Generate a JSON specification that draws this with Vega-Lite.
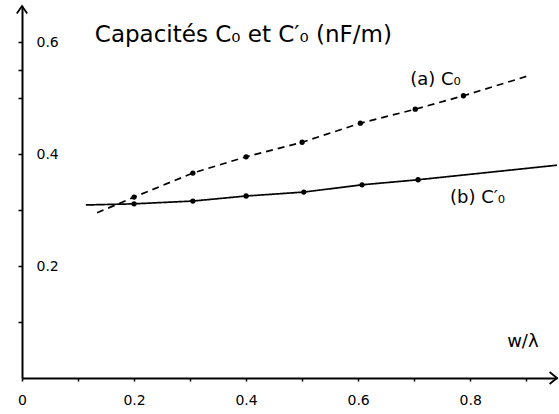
{
  "$schema": "https://vega.github.io/schema/vega-lite/v6.json",
  "autosize": "none",
  "width": 535,
  "height": 372,
  "padding": {"left": 22, "top": 6, "right": 2, "bottom": 36},
  "background": "white",
  "config": {"view": {"stroke": null}, "font": "DejaVu Sans"},
  "datasets": {
    "curves": [
      {"series": "a", "w": 0.134, "c": 0.295, "pt": false},
      {"series": "a", "w": 0.2, "c": 0.323, "pt": true},
      {"series": "a", "w": 0.305, "c": 0.366, "pt": true},
      {"series": "a", "w": 0.4, "c": 0.395, "pt": true},
      {"series": "a", "w": 0.5, "c": 0.421, "pt": true},
      {"series": "a", "w": 0.604, "c": 0.455, "pt": true},
      {"series": "a", "w": 0.702, "c": 0.48, "pt": true},
      {"series": "a", "w": 0.788, "c": 0.504, "pt": true},
      {"series": "a", "w": 0.905, "c": 0.54, "pt": false},
      {"series": "b", "w": 0.114, "c": 0.309, "pt": false},
      {"series": "b", "w": 0.2, "c": 0.311, "pt": true},
      {"series": "b", "w": 0.305, "c": 0.316, "pt": true},
      {"series": "b", "w": 0.4, "c": 0.325, "pt": true},
      {"series": "b", "w": 0.503, "c": 0.332, "pt": true},
      {"series": "b", "w": 0.607, "c": 0.345, "pt": true},
      {"series": "b", "w": 0.707, "c": 0.354, "pt": true},
      {"series": "b", "w": 0.955, "c": 0.38, "pt": false}
    ],
    "labels": [
      {"t": "Capacités C₀ et C′₀ (nF/m)", "w": 0.13, "c": 0.612, "size": 23},
      {"t": "(a) C₀", "w": 0.693, "c": 0.532, "size": 18},
      {"t": "(b) C′₀", "w": 0.764, "c": 0.321, "size": 18},
      {"t": "w/λ", "w": 0.866, "c": 0.064, "size": 18}
    ],
    "arrows": [
      {"s": "x", "w": 0.955, "c": 0},
      {"s": "y", "w": 0, "c": 0.6643}
    ]
  },
  "encoding": {
    "x": {
      "field": "w", "type": "quantitative",
      "scale": {"domain": [0, 0.955], "nice": false, "zero": false},
      "axis": {
        "title": null, "grid": false, "orient": "bottom",
        "values": [0, 0.1, 0.2, 0.3, 0.4, 0.5, 0.6, 0.7, 0.8, 0.9],
        "labelExpr": "datum.value == 0 ? '0' : (datum.value == 0.2 || datum.value == 0.4 || datum.value == 0.6 || datum.value == 0.8 ? format(datum.value, '.1f') : '')",
        "domainColor": "black", "domainWidth": 2,
        "tickColor": "black", "tickSize": 3, "tickWidth": 1.5,
        "labelColor": "black", "labelFontSize": 14, "labelPadding": 12,
        "labelFlush": false, "labelOverlap": false
      }
    },
    "y": {
      "field": "c", "type": "quantitative",
      "scale": {"domain": [0, 0.6643], "nice": false, "zero": false},
      "axis": {
        "title": null, "grid": false, "orient": "left",
        "values": [0.1, 0.2, 0.3, 0.4, 0.5, 0.55, 0.6],
        "labelExpr": "datum.value == 0.2 || datum.value == 0.4 || datum.value == 0.6 ? format(datum.value, '.1f') : ''",
        "domainColor": "black", "domainWidth": 2,
        "tickColor": "black", "tickSize": 4, "tickWidth": 1.5,
        "labelColor": "black", "labelFontSize": 14,
        "labelAlign": "left", "labelBaseline": "middle", "labelPadding": -18,
        "labelFlush": false, "labelOverlap": false
      }
    }
  },
  "layer": [
    {
      "data": {"name": "curves"},
      "mark": {"type": "line", "color": "black", "strokeWidth": 1.7, "clip": true},
      "encoding": {
        "strokeDash": {
          "field": "series", "type": "nominal",
          "scale": {"domain": ["a", "b"], "range": [[7, 5], [1, 0]]},
          "legend": null
        }
      }
    },
    {
      "data": {"name": "curves"},
      "transform": [{"filter": "datum.pt"}],
      "mark": {"type": "point", "filled": true, "color": "black", "size": 28, "opacity": 1}
    },
    {
      "data": {"name": "labels"},
      "mark": {"type": "text", "align": "left", "baseline": "middle", "color": "black"},
      "encoding": {
        "text": {"field": "t"},
        "size": {"field": "size", "type": "quantitative", "scale": null}
      }
    },
    {
      "data": {"name": "arrows"},
      "transform": [{"filter": "datum.s == 'x'"}],
      "mark": {"type": "point", "filled": false, "color": "black", "strokeWidth": 1.8, "size": 220, "opacity": 1, "shape": "M-1,-0.8L0,0L-1,0.8", "clip": false}
    },
    {
      "data": {"name": "arrows"},
      "transform": [{"filter": "datum.s == 'y'"}],
      "mark": {"type": "point", "filled": false, "color": "black", "strokeWidth": 1.8, "size": 220, "opacity": 1, "shape": "M-0.7,1L0,0L0.7,1", "clip": false}
    }
  ]
}
